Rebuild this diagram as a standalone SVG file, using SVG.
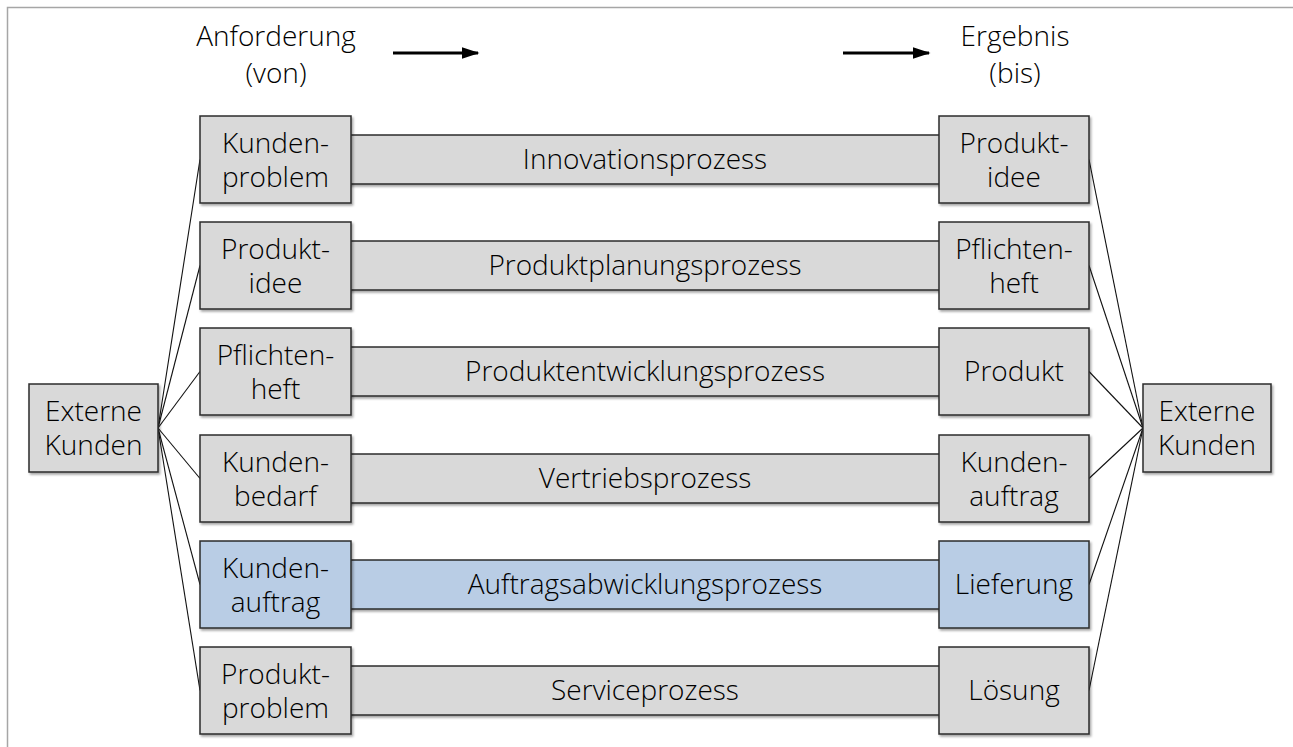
<svg xmlns="http://www.w3.org/2000/svg" width="1293" height="747" viewBox="0 0 1293 747">
<defs>
<style>
.box{fill:#d9d9d9;stroke:#2b2b2b;stroke-width:1.5;filter:url(#sh)}
.bar{fill:#d9d9d9;stroke:#2b2b2b;stroke-width:1.5;filter:url(#sh)}
.box.blue,.bar.blue{fill:#b9cde5}
.t{font-family:"Open Sans","Liberation Sans",sans-serif;font-size:28px;font-weight:300;fill:#000;text-anchor:middle}
.c{stroke:#111;stroke-width:1.1;fill:none}
.frame{stroke:#a6a6a6;stroke-width:1.5;fill:none}
.arr{stroke:#000;stroke-width:3;fill:none}
</style>
<filter id="sh" x="-5%" y="-5%" width="115%" height="120%">
<feDropShadow dx="1.5" dy="2" stdDeviation="1" flood-color="#000" flood-opacity="0.35"/>
</filter>
<marker id="ah" markerWidth="6" markerHeight="4" refX="5.5" refY="2" orient="auto" markerUnits="strokeWidth">
<path d="M0,0 L6,2 L0,4 Z" fill="#000"/>
</marker>
</defs>
<rect width="1293" height="747" fill="#fff"/>
<path class="frame" d="M7.5,747 V7.5 H1293"/>
<g id="header">
<text class="t" x="276" y="46">Anforderung</text>
<text class="t" x="276" y="83">(von)</text>
<text class="t" x="1015" y="46">Ergebnis</text>
<text class="t" x="1015" y="83">(bis)</text>
<line class="arr" x1="393" y1="53" x2="478" y2="53" marker-end="url(#ah)"/>
<line class="arr" x1="843" y1="53" x2="929" y2="53" marker-end="url(#ah)"/>
</g>
<g id="connectors">
<line class="c" x1="158" y1="428" x2="200" y2="159.5"/>
<line class="c" x1="158" y1="428" x2="200" y2="265.5"/>
<line class="c" x1="158" y1="428" x2="200" y2="371.5"/>
<line class="c" x1="158" y1="428" x2="200" y2="478.5"/>
<line class="c" x1="158" y1="428" x2="200" y2="584.5"/>
<line class="c" x1="158" y1="428" x2="200" y2="690.5"/>
<line class="c" x1="1143" y1="428" x2="1089" y2="159.5"/>
<line class="c" x1="1143" y1="428" x2="1089" y2="265.5"/>
<line class="c" x1="1143" y1="428" x2="1089" y2="371.5"/>
<line class="c" x1="1143" y1="428" x2="1089" y2="478.5"/>
<line class="c" x1="1143" y1="428" x2="1089" y2="584.5"/>
<line class="c" x1="1143" y1="428" x2="1089" y2="690.5"/>
</g>
<g id="ext-left"><rect class="box" x="29" y="384" width="129" height="88"/>
<text class="t" x="93.5" y="421">Externe</text><text class="t" x="93.5" y="455">Kunden</text></g>
<g id="ext-right"><rect class="box" x="1143" y="384" width="128" height="88"/>
<text class="t" x="1207" y="421">Externe</text><text class="t" x="1207" y="455">Kunden</text></g>
<g id="row1">
<rect class="bar" x="345" y="135" width="600" height="49"/>
<text class="t" x="645" y="169">Innovationsprozess</text>
<rect class="box" x="200" y="116" width="151" height="87"/>
<text class="t" x="275.5" y="152.5">Kunden-</text><text class="t" x="275.5" y="186.5">problem</text>
<rect class="box" x="939" y="116" width="150" height="87"/>
<text class="t" x="1014" y="152.5">Produkt-</text><text class="t" x="1014" y="186.5">idee</text>
</g>
<g id="row2">
<rect class="bar" x="345" y="241" width="600" height="49"/>
<text class="t" x="645" y="275">Produktplanungsprozess</text>
<rect class="box" x="200" y="222" width="151" height="87"/>
<text class="t" x="275.5" y="258.5">Produkt-</text><text class="t" x="275.5" y="292.5">idee</text>
<rect class="box" x="939" y="222" width="150" height="87"/>
<text class="t" x="1014" y="258.5">Pflichten-</text><text class="t" x="1014" y="292.5">heft</text>
</g>
<g id="row3">
<rect class="bar" x="345" y="347" width="600" height="49"/>
<text class="t" x="645" y="381">Produktentwicklungsprozess</text>
<rect class="box" x="200" y="328" width="151" height="87"/>
<text class="t" x="275.5" y="364.5">Pflichten-</text><text class="t" x="275.5" y="398.5">heft</text>
<rect class="box" x="939" y="328" width="150" height="87"/>
<text class="t" x="1014" y="381">Produkt</text>
</g>
<g id="row4">
<rect class="bar" x="345" y="454" width="600" height="49"/>
<text class="t" x="645" y="488">Vertriebsprozess</text>
<rect class="box" x="200" y="435" width="151" height="87"/>
<text class="t" x="275.5" y="471.5">Kunden-</text><text class="t" x="275.5" y="505.5">bedarf</text>
<rect class="box" x="939" y="435" width="150" height="87"/>
<text class="t" x="1014" y="471.5">Kunden-</text><text class="t" x="1014" y="505.5">auftrag</text>
</g>
<g id="row5">
<rect class="bar blue" x="345" y="560" width="600" height="49"/>
<text class="t" x="645" y="594">Auftragsabwicklungsprozess</text>
<rect class="box blue" x="200" y="541" width="151" height="87"/>
<text class="t" x="275.5" y="577.5">Kunden-</text><text class="t" x="275.5" y="611.5">auftrag</text>
<rect class="box blue" x="939" y="541" width="150" height="87"/>
<text class="t" x="1014" y="594">Lieferung</text>
</g>
<g id="row6">
<rect class="bar" x="345" y="666" width="600" height="49"/>
<text class="t" x="645" y="700">Serviceprozess</text>
<rect class="box" x="200" y="647" width="151" height="87"/>
<text class="t" x="275.5" y="683.5">Produkt-</text><text class="t" x="275.5" y="717.5">problem</text>
<rect class="box" x="939" y="647" width="150" height="87"/>
<text class="t" x="1014" y="700">Lösung</text>
</g>
</svg>
